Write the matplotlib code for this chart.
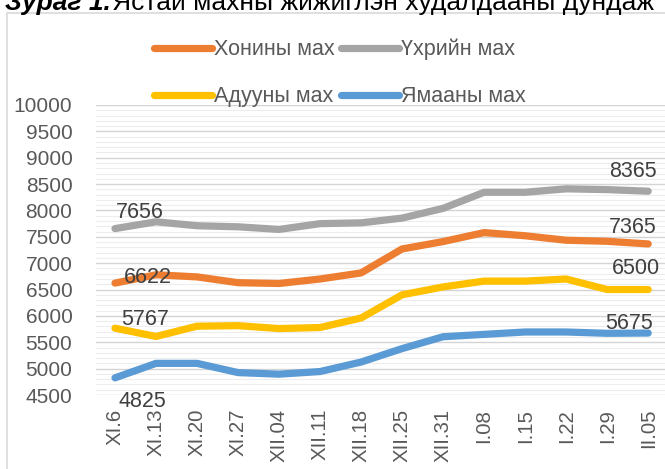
import matplotlib
matplotlib.use('Agg')
import matplotlib.pyplot as plt
from matplotlib.ticker import MultipleLocator
from matplotlib.patches import Rectangle

plt.rcParams['font.family'] = ['Liberation Sans', 'DejaVu Sans']

# data
dates = ['XI.6', 'XI.13', 'XI.20', 'XI.27', 'XII.04', 'XII.11', 'XII.18',
         'XII.25', 'XII.31', 'I.08', 'I.15', 'I.22', 'I.29', 'II.05']
sheep = [6622, 6780, 6740, 6630, 6615, 6700, 6815, 7270, 7410, 7580, 7520, 7435, 7415, 7365]
beef = [7656, 7785, 7710, 7690, 7640, 7750, 7765, 7855, 8040, 8345, 8345, 8410, 8395, 8365]
horse = [5767, 5610, 5805, 5815, 5760, 5780, 5960, 6400, 6550, 6660, 6660, 6700, 6500, 6500]
goat = [4825, 5100, 5100, 4925, 4895, 4945, 5125, 5380, 5605, 5650, 5695, 5695, 5670, 5675]

names = ['Хонины мах', 'Үхрийн мах', 'Адууны мах', 'Ямааны мах']
colors = ['#ED7D31', '#A5A5A5', '#FFC000', '#5B9BD5']
series = [sheep, beef, horse, goat]

fig = plt.figure(figsize=(6.65, 4.69), dpi=100)
ax = fig.add_axes([96 / 665, 74 / 469, 1 - 96 / 665, 290 / 469])

# chart frame (cut off by the image edges on the right and bottom)
fig.patches.append(Rectangle((7 / 665, -0.1), 1.0, 1 - 13 / 469 + 0.1,
                             transform=fig.transFigure, fill=False,
                             edgecolor='#d9d9d9', linewidth=1.2))

x = list(range(len(dates)))
lines = []
for vals, c, n in zip(series, colors, names):
    ln, = ax.plot(x, vals, color=c, lw=5.2, solid_capstyle='round',
                  solid_joinstyle='round', label=n, zorder=3)
    lines.append(ln)

ax.set_xlim(-0.463, 13.41)
ax.set_ylim(4500, 10000)
ax.yaxis.set_major_locator(MultipleLocator(500))
ax.yaxis.set_minor_locator(MultipleLocator(100))
ax.grid(which='major', axis='y', color='#d4d4d4', lw=1.0)
ax.grid(which='minor', axis='y', color='#ededed', lw=0.8)
ax.set_axisbelow(True)
for s in ax.spines.values():
    s.set_visible(False)
ax.tick_params(which='both', length=0)
ax.tick_params(axis='y', labelsize=15, labelcolor='#595959', pad=17)
ax.tick_params(axis='x', labelsize=14.7, labelcolor='#595959', pad=10)
ax.set_xticks(x)
ax.set_xticklabels(dates, rotation=90, va='top')

# data labels on first and last points
first_off = [(24, 4), (18, 11.5), (22, 6), (20, -17)]
last_off = [(-11, 12), (-11, 14), (-9, 15.5), (-14, 7)]
for vals, fo, lo in zip(series, first_off, last_off):
    ax.annotate(str(vals[0]), (x[0], vals[0]), xytext=fo, textcoords='offset points',
                ha='center', va='center', fontsize=15.5, color='#404040', zorder=4)
    ax.annotate(str(vals[-1]), (x[-1], vals[-1]), xytext=lo, textcoords='offset points',
                ha='center', va='center', fontsize=15.5, color='#404040', zorder=4)

order = [0, 2, 1, 3]
leg = fig.legend([lines[i] for i in order], [names[i] for i in order], ncol=2,
                 loc='center', bbox_to_anchor=(340 / 665, 1 - 73 / 469),
                 frameon=False, fontsize=15.5, labelcolor='#595959',
                 handlelength=2.7, handletextpad=0.1, columnspacing=0.28,
                 labelspacing=1.22, borderpad=0)

# title, clipped by the top of the image
fig.text(111 / 665, 1 - 10 / 469, 'Зураг 1.', fontsize=19, fontweight='bold',
         fontstyle='italic', va='baseline', ha='right')
fig.text(112 / 665, 1 - 10 / 469, 'Ястай махны жижиглэн худалдааны дундаж',
         fontsize=19, va='baseline', ha='left')

fig.savefig('out.png', dpi=100)
